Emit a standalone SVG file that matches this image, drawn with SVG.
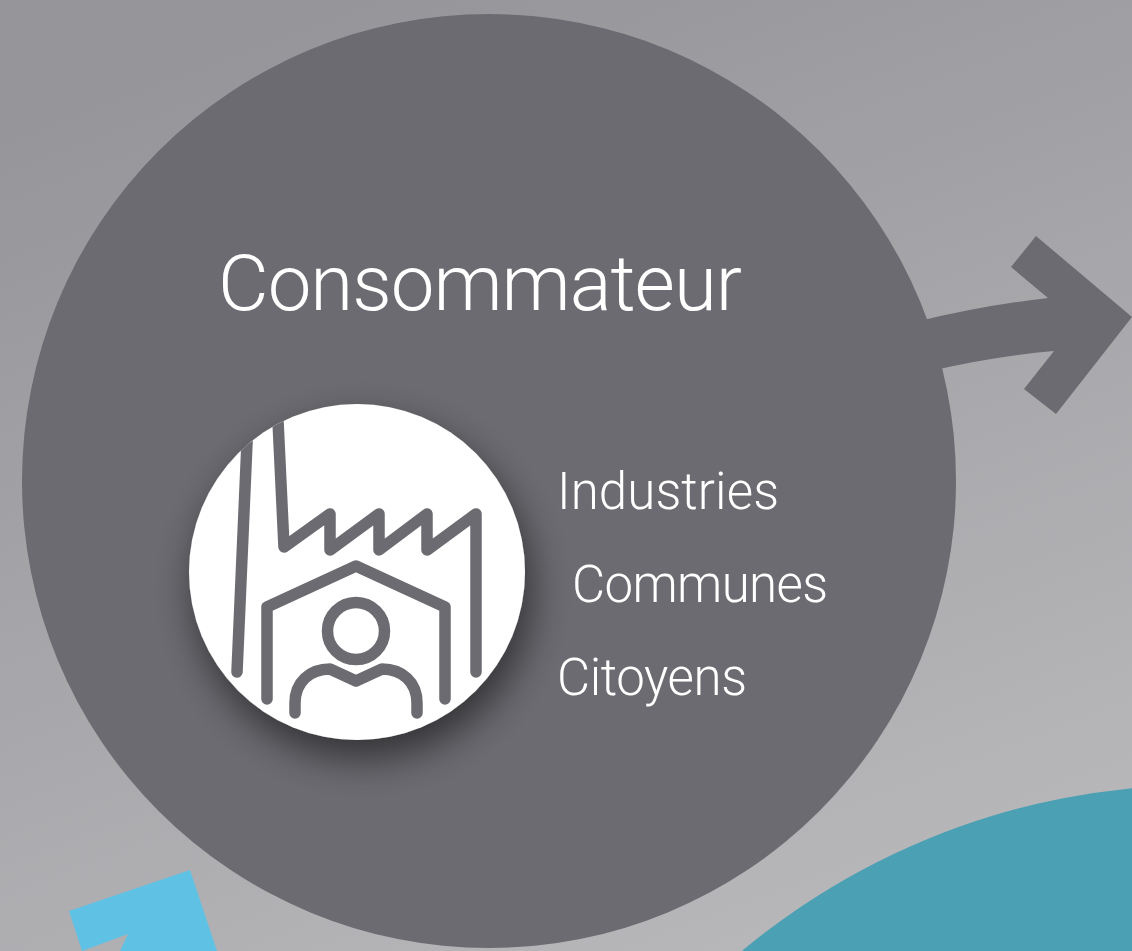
<svg xmlns="http://www.w3.org/2000/svg" width="1132" height="951" viewBox="0 0 1132 951">
<defs>
<linearGradient id="bg" gradientUnits="userSpaceOnUse" x1="360" y1="0" x2="720" y2="951"><stop offset="0" stop-color="#96969a"/><stop offset="1" stop-color="#b7b7ba"/></linearGradient>
<filter id="sh" x="-40%" y="-40%" width="180%" height="180%"><feGaussianBlur in="SourceAlpha" stdDeviation="20"/><feOffset dx="6" dy="18"/><feComponentTransfer><feFuncA type="linear" slope="0.55"/></feComponentTransfer><feMerge><feMergeNode/><feMergeNode in="SourceGraphic"/></feMerge></filter>
<clipPath id="disc"><circle cx="357" cy="572" r="168"/></clipPath>
</defs>
<style>
.t{font-family:"Roboto","Noto Sans","Liberation Sans",sans-serif;fill:#fff;font-weight:300}
.i{fill:none;stroke:#6c6b71;stroke-width:11.5;stroke-linecap:round;stroke-linejoin:round}
</style>
<rect width="1132" height="951" fill="url(#bg)"/>
<g id="connectors">
<path d="M915 322Q985 305 1048 298L1011 267L1036 236L1132 317L1056 414L1024 389L1054 351Q995 356 930 371Z" fill="#6c6b71"/>
<polygon points="69,911 190,870 217,951 120,951 128,934 82,951" fill="#5fc1e4"/>
</g>
<circle id="teal-node" cx="1200" cy="1500" r="715" fill="#4ba0b3"/>
<g id="consommateur">
<circle cx="489" cy="481" r="467" fill="#6c6b71"/>
<text class="t" x="218" y="310" font-size="78" textLength="524">Consommateur</text>
<text class="t" x="557" y="509" font-size="51" textLength="222">Industries</text>
<text class="t" x="572" y="602" font-size="51" textLength="256">Communes</text>
<text class="t" x="557" y="695" font-size="51" textLength="190">Citoyens</text>
</g>
<g id="icon">
<circle cx="357" cy="572" r="168" fill="#fff" filter="url(#sh)"/>
<g clip-path="url(#disc)">
<path class="i" d="M248 420L237 672M277 400L284 547L330 514V550L379 514V550L427 514V550L476 514V672"/>
</g>
<path class="i" d="M267 699V607L356 566L445 607V699"/>
<circle class="i" cx="356" cy="631" r="28.5"/>
<path class="i" d="M295 713V703C295 682 310 669 330 669L356 681L382 669C402 669 417 682 417 703V713"/>
</g>
</svg>
